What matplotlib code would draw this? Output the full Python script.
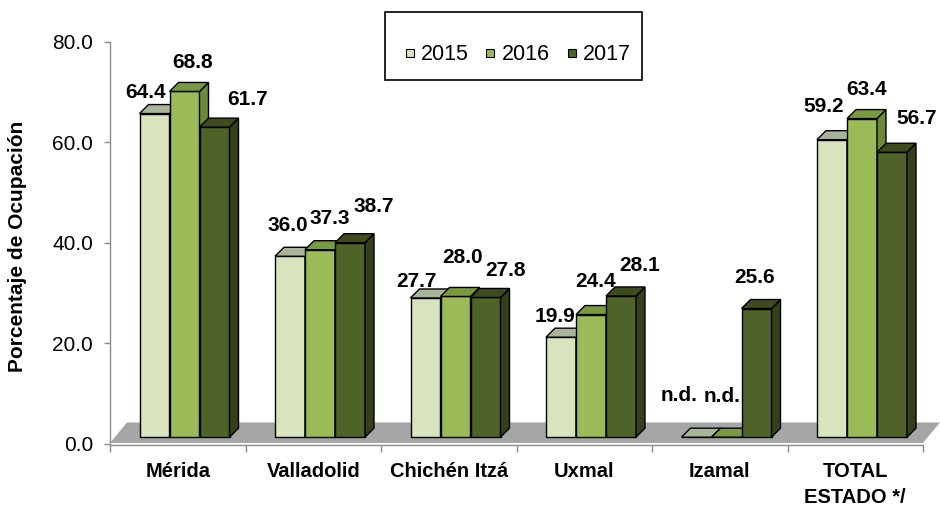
import numpy as np
import matplotlib
matplotlib.use("Agg")
import matplotlib.pyplot as plt
from matplotlib.patches import Polygon, Rectangle

plt.rcParams['font.family'] = ['Liberation Sans', 'DejaVu Sans']

# ---------------- data ----------------
categories = ['Mérida', 'Valladolid', 'Chichén Itzá', 'Uxmal', 'Izamal', 'TOTAL\nESTADO */']
series = ['2015', '2016', '2017']
v2015 = [64.4, 36.0, 27.7, 19.9, np.nan, 59.2]
v2016 = [68.8, 37.3, 28.0, 24.4, np.nan, 63.4]
v2017 = [61.7, 38.7, 27.8, 28.1, 25.6, 56.7]
values = [v2015, v2016, v2017]
yticks = [0, 20, 40, 60, 80]
y_label = 'Porcentaje de Ocupación'
missing_label = 'n.d.'

# ---------------- style ----------------
front_col = ['#D7E4BD', '#9BBB59', '#4F6228']
top_col = ['#A8B598', '#789A40', '#3D4B1F']
side_col = ['#8F9C80', '#6C8A39', '#343F1B']

# label nudges (pixels): (dx from bar-front centre, baseline height above front top)
label_nudge = [
    [(-8.5, 16), (-2, 25), (-9, 11), (-6, 15), (-17, 36), (-8, 28)],
    [(8, 23), (10, 26), (7, 33), (5, 28), (-4, 35), (5, 24)],
    [(33, 22), (24, 31), (20, 21), (19, 25), (-2, 26), (25, 28)],
]

W, H = 940, 507
fig = plt.figure(figsize=(W / 100, H / 100), dpi=100)

px_per_unit = 5.025
cat_px = 135.5
y_min = -0.3
ax_left, ax_right = 110, 923
ax_top_px = 41.7
ax_bot_px = ax_top_px + (80 - y_min) * px_per_unit
ax = fig.add_axes([ax_left / W, 1 - ax_bot_px / H, (ax_right - ax_left) / W,
                   (ax_bot_px - ax_top_px) / H])
ax.set_xlim(0, len(categories))
ax.set_ylim(y_min, 80)
ax.patch.set_visible(False)

# geometry (in data units)
base = 1.3
bw = 30 / cat_px
gap0 = 29.5 / cat_px
ddx = 9 / cat_px
ddy = 9 / px_per_unit

# floor
n = len(categories)
floor_dx = 17 / cat_px
floor_dy = 20.5 / px_per_unit
ax.add_patch(Polygon([(0, 0.15), (n, 0.15), (n + floor_dx, 0.15 + floor_dy),
                      (floor_dx, 0.15 + floor_dy)], closed=True,
                     facecolor='#A6A6A6', edgecolor='none', zorder=1, clip_on=False))

idx = np.arange(n)
for s in range(len(series)):
    vals = np.array(values[s], dtype=float)
    h = np.nan_to_num(vals, nan=0.0)
    x0 = idx + gap0 + s * bw
    z = 3 + s
    ax.bar(x0, h, width=bw, bottom=base, align='edge', color=front_col[s],
           edgecolor='black', linewidth=1.0, zorder=z, clip_on=False)
    for i in range(n):
        top = base + h[i]
        xl = x0[i]
        xr = xl + bw
        if h[i] > 0:
            ax.add_patch(Polygon([(xr, base), (xr + ddx, base + ddy), (xr + ddx, top + ddy),
                                  (xr, top)], closed=True, facecolor=side_col[s],
                                 edgecolor='black', linewidth=1.0, zorder=z, clip_on=False))
        ax.add_patch(Polygon([(xl, top), (xr, top), (xr + ddx, top + ddy), (xl + ddx, top + ddy)],
                             closed=True, facecolor=top_col[s], edgecolor='black',
                             linewidth=1.0, zorder=z + 0.01, clip_on=False))
        txt = missing_label if np.isnan(vals[i]) else f'{vals[i]:.1f}'
        ndx, ndy = label_nudge[s][i]
        ax.annotate(txt, xy=(xl + bw / 2, top), xytext=(ndx * 0.72, ndy * 0.72),
                    textcoords='offset points', ha='center', va='baseline',
                    fontsize=15, fontweight='bold', color='black', zorder=10,
                    annotation_clip=False)

# axes styling
for sp in ['top', 'right']:
    ax.spines[sp].set_visible(False)
for sp in ['left', 'bottom']:
    ax.spines[sp].set_color('#8C8C8C')
    ax.spines[sp].set_linewidth(1.0)
ax.set_yticks(yticks)
ax.set_yticklabels([f'{t:.1f}' for t in yticks])
ax.tick_params(axis='y', direction='out', length=4.3, width=1.0, color='#8C8C8C',
               labelsize=15, pad=8, labelcolor='black')
ax.set_xticks(np.arange(n + 1))
ax.set_xticklabels([])
ax.tick_params(axis='x', which='major', direction='out', length=5, width=1.0, color='#8C8C8C')
ax.set_xticks(idx + 0.5, minor=True)
ax.set_xticklabels(categories, minor=True)
ax.tick_params(axis='x', which='minor', length=0, pad=12, labelsize=14.5)
for lbl in ax.get_xticklabels(minor=True):
    lbl.set_fontweight('bold')
    lbl.set_linespacing(1.5)

fig.text(17.5 / W, 1 - 246 / H, y_label, rotation=90, ha='center', va='center',
         fontsize=15, fontweight='bold')

# legend (manual box)
fig.add_artist(Rectangle((385 / W, 1 - 80 / H), (642 - 385) / W, (80 - 12) / H,
                         transform=fig.transFigure, facecolor='white', edgecolor='black',
                         linewidth=1.2))
leg_marker_x = [410, 490, 572]
leg_text_x = [421, 502, 583]
leg_y = 54
msz = 8
for s in range(len(series)):
    fig.add_artist(Rectangle(((leg_marker_x[s] - msz / 2) / W, 1 - (leg_y + msz / 2 - 1) / H),
                             msz / W, msz / H, transform=fig.transFigure,
                             facecolor=front_col[s], edgecolor='black', linewidth=0.8))
    fig.text(leg_text_x[s] / W, 1 - leg_y / H, series[s], ha='left', va='center', fontsize=15.5)

fig.savefig('out.png', dpi=100)
